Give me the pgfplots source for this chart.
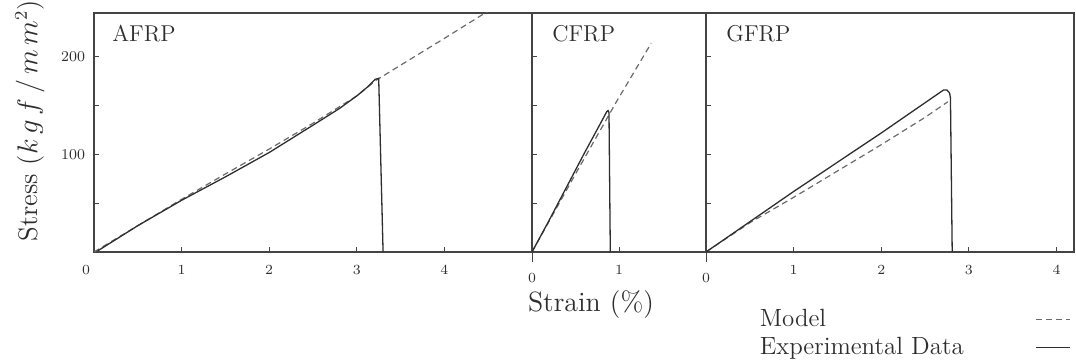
\documentclass[border=0pt]{standalone}
\usepackage{pgfplots}
\pgfplotsset{compat=1.18}
\definecolor{ink}{HTML}{2e2e2e}
\definecolor{axisink}{HTML}{444444}
\definecolor{modelink}{HTML}{6a6a6a}
\tikzset{ptitle/.style={anchor=north west, inner sep=0pt, font=\fontsize{11.5}{13}\selectfont, text=ink}}

\begin{document}
\begin{tikzpicture}
\useasboundingbox (0bp,0bp) rectangle (538bp,180bp);
\pgfplotsset{
  panel/.style={
    scale only axis, anchor=south west,
    ymin=0, ymax=245,
    height=119.5bp,
    axis line style={axisink, line width=0.6bp},
    tick style={axisink, line width=0.5bp},
    major tick length=2.5bp, minor tick length=2bp,
    tick align=inside,
    tick pos=left,
    ytick={50,100,150,200},
    yticklabels={},
    tick label style={font=\fontsize{7.5}{8}\selectfont, text=ink},
    xticklabel style={yshift=-3bp},
  },
  model/.style={modelink, line width=0.6bp, dash pattern=on 3bp off 2bp},
  exp/.style={ink, line width=0.65bp},
}

% ---------- AFRP ----------
\begin{axis}[panel, at={(47bp,54bp)}, width=219bp,
  xmin=0, xmax=5, xtick={1,2,3,4},
  extra x ticks={0}, extra x tick style={major tick length=0pt, xticklabel style={xshift=-4bp}},
  yticklabels={,100,,200},
  yticklabel style={xshift=-1bp}]
\addplot[model] coordinates {(0,0) (1,54) (1.5,80) (2,105.5) (2.5,132) (3,160) (3.22,176) (3.5,191.5) (4,219) (4.5,247)};
\addplot[exp] coordinates {(0.04,1) (0.5,27) (1,53) (1.5,77) (2,102) (2.5,130) (2.8,147) (3,160) (3.12,169) (3.21,177) (3.25,178) (3.3,0)};
\node[ptitle, xshift=9bp, yshift=-6bp] at (rel axis cs:0,1) {AFRP};
\end{axis}

% ---------- CFRP ----------
\begin{axis}[panel, at={(266bp,54bp)}, width=87bp,
  xmin=0, xmax=2, xtick={1},
  extra x ticks={0}, extra x tick style={tick align=outside, major tick length=5bp, xticklabel style={yshift=1bp}}]
\addplot[model] coordinates {(0,0) (0.5,80) (0.97,154) (1.37,214)};
\addplot[exp] coordinates {(0,0) (0.2,33) (0.4,67) (0.6,101) (0.8,134) (0.86,144) (0.875,145) (0.885,143) (0.9,0)};
\node[ptitle, xshift=10bp, yshift=-6bp] at (rel axis cs:0,1) {CFRP};
\end{axis}

% ---------- GFRP ----------
\begin{axis}[panel, at={(353bp,54bp)}, width=184bp,
  xmin=0, xmax=4.2, xtick={1,2,3,4},
  extra x ticks={0}, extra x tick style={tick align=outside, major tick length=5bp, xticklabel style={yshift=1bp}},
  legend plot pos=right, legend cell align=left,
  legend style={at={(axis description cs:0.118,-0.205)}, anchor=north west, draw=none, fill=none,
    font=\fontsize{12.5}{14}\selectfont, text=ink, row sep=0bp,
    /tikz/every odd column/.append style={column sep=34bp}}]
\addplot[model] coordinates {(0,0) (0.5,30) (1,56) (1.5,83) (2,110) (2.5,138) (2.76,154)};
\addlegendentry{Model}
\addplot[exp] coordinates {(0,0) (0.5,31) (1,62) (1.5,92) (2,122) (2.5,153) (2.71,166) (2.75,166) (2.78,163) (2.79,158) (2.81,0)};
\addlegendentry{Experimental Data}
\node[ptitle, xshift=10bp, yshift=-6bp] at (rel axis cs:0,1) {GFRP};
\end{axis}

\node[font=\fontsize{14}{16}\selectfont, text=ink] at (295.5bp,27.5bp) {Strain (\%)};
\node[font=\fontsize{13.5}{16}\selectfont, text=ink, rotate=90] at (15bp,119.5bp) {Stress ($k\,g\,f\,/\,m\,m^2$)};
\end{tikzpicture}
\end{document}
